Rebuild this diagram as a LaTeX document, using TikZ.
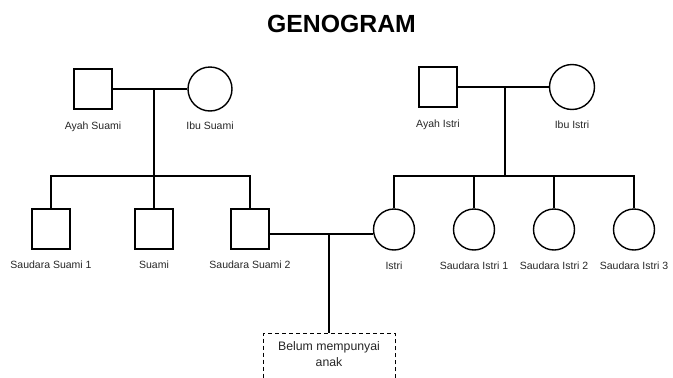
\documentclass[tikz,border=0pt]{standalone}
\usepackage{fontspec}
\setmainfont{Liberation Sans}
\usepackage{tikz}
\usetikzlibrary{positioning}

\begin{document}
\begin{tikzpicture}[x=1pt, y=-1pt,
  male/.style={rectangle, draw, line width=1.4pt, minimum width=38pt, minimum height=40pt, inner sep=0pt},
  female/.style={circle, draw, line width=1.4pt, minimum size=41pt, inner sep=0pt},
  nama/.style={font=\fontsize{10.5}{12}\selectfont, text=black!85},
  line/.style={line width=1.4pt},
  box/.style={rectangle, draw, dash pattern=on 4pt off 3pt, line width=1pt, minimum width=132pt, align=center, anchor=north, inner ysep=8pt, text depth=40pt, font=\fontsize{12.3}{16}\selectfont, text=black!85}
]
  \useasboundingbox (0,0) rectangle (673,378);
  \clip (0,0) rectangle (673,378);

  \node[font=\fontsize{24.8}{28}\selectfont\bfseries] (judul) at (341.5,23.5) {GENOGRAM};

  % orang tua
  \node[male] (ayahSuami) at (93,89) {};
  \node[female, minimum size=44pt] (ibuSuami) at (210,89) {};
  \node[male] (ayahIstri) at (438,87) {};
  \node[female, minimum size=45pt] (ibuIstri) at (572,87) {};

  \node[nama, below=9pt of ayahSuami] (lAyahSuami) {Ayah Suami};
  \node[nama, below=7pt of ibuSuami] (lIbuSuami) {Ibu Suami};
  \node[nama, below=9pt of ayahIstri] (lAyahIstri) {Ayah Istri};
  \node[nama, below=7pt of ibuIstri] (lIbuIstri) {Ibu Istri};

  % anak-anak
  \node[male] (saudaraSuami1) at (51,229) {};
  \node[male] (suami) at (154,229) {};
  \node[male] (saudaraSuami2) at (250,229) {};
  \node[female] (istri) at (394,229.5) {};
  \node[female] (saudaraIstri1) at (474,229.5) {};
  \node[female] (saudaraIstri2) at (554,229.5) {};
  \node[female] (saudaraIstri3) at (634,229.5) {};

  \node[nama, below=8pt of saudaraSuami1] (lSaudaraSuami1) {Saudara Suami 1};
  \node[nama, below=8pt of suami] (lSuami) {Suami};
  \node[nama, below=8pt of saudaraSuami2] (lSaudaraSuami2) {Saudara Suami 2};
  \node[nama, below=8pt of istri] (lIstri) {Istri};
  \node[nama, below=8pt of saudaraIstri1] (lSaudaraIstri1) {Saudara Istri 1};
  \node[nama, below=8pt of saudaraIstri2] (lSaudaraIstri2) {Saudara Istri 2};
  \node[nama, below=8pt of saudaraIstri3] (lSaudaraIstri3) {Saudara Istri 3};

  \node[box] (anak) at (329,333) {Belum mempunyai\\anak};

  % garis
  \coordinate (kSuami) at (154,89);
  \coordinate (barSuami) at (154,176);
  \coordinate (kIstri) at (505,87);
  \coordinate (barIstri) at (505,176);
  \coordinate (kNikah) at (329,234);

  \draw[line] (ayahSuami) -- (ibuSuami);
  \draw[line] (kSuami) -- (barSuami);
  \draw[line] (saudaraSuami1.north) -- (saudaraSuami1.north |- barSuami) -- (saudaraSuami2.north |- barSuami) -- (saudaraSuami2.north);
  \draw[line] (suami.north) -- (suami.north |- barSuami);

  \draw[line] (ayahIstri) -- (ibuIstri);
  \draw[line] (kIstri) -- (barIstri);
  \draw[line] (istri.north) -- (istri.north |- barIstri) -- (saudaraIstri3.north |- barIstri) -- (saudaraIstri3.north);
  \draw[line] (saudaraIstri1.north) -- (saudaraIstri1.north |- barIstri);
  \draw[line] (saudaraIstri2.north) -- (saudaraIstri2.north |- barIstri);

  \draw[line] (saudaraSuami2.east |- kNikah) -- (istri.west |- kNikah);
  \draw[line] (kNikah) -- (anak.north);
\end{tikzpicture}
\end{document}
